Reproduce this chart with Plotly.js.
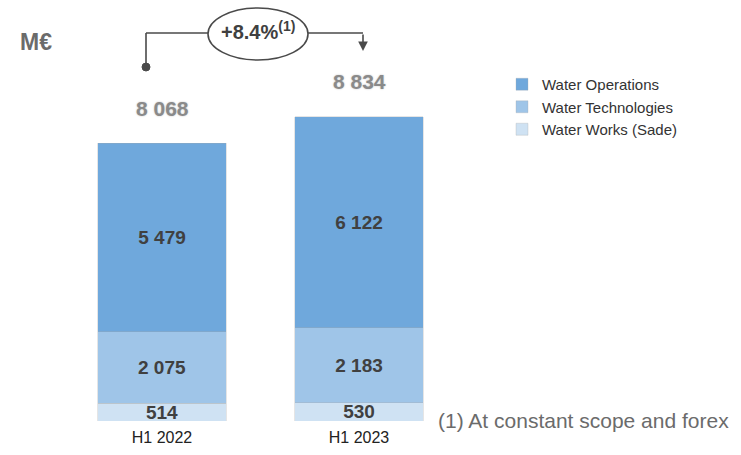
<!DOCTYPE html>
<html><head><meta charset="utf-8">
<script src="https://cdn.plot.ly/plotly-3.0.1.min.js"></script>
<style>html,body{margin:0;padding:0;background:#fff}#c{width:741px;height:455px}</style>
</head><body><div id="c"></div>
<script>
const categories = ['H1 2022', 'H1 2023'];
const waterWorks = [514, 530];
const waterTech = [2075, 2183];
const waterOps = [5479, 6122];
const totals = [8068, 8834];
const seriesNames = ['Water Works (Sade)', 'Water Technologies', 'Water Operations'];
const seriesColors = ['#cfe2f3', '#9fc5e8', '#6fa8dc'];
const growthLabel = '+8.4%<sup>(1)</sup>';
const footnote = '(1) At constant scope and forex';
const unitLabel = 'M€';

const W = 741, H = 455, B = 34;
const px = x => x / W;
const py = y => (H - B - y) / (H - B);
const FONT = 'Liberation Sans, Arial, sans-serif';

const series = [waterWorks, waterTech, waterOps];
const traces = series.map((vals, i) => ({
  type: 'bar', name: seriesNames[i], x: categories, y: vals,
  marker: {color: seriesColors[i], line: {color: 'rgba(170,170,170,0.5)', width: 0.6}},
  width: 0.65,
  texttemplate: '%{y:,}', textposition: 'inside', insidetextanchor: 'middle',
  textfont: {family: FONT, size: 19, color: '#404040', weight: 'bold'},
  hoverinfo: 'skip', constraintext: 'none'
}));

const annotations = categories.map((c, i) => ({
  x: c, y: totals[i], xref: 'x', yref: 'y', text: totals[i].toLocaleString('fr-FR').replace(/\u202f|\u00a0/g, ' '),
  showarrow: false, xanchor: 'center', yanchor: 'middle', yshift: 35,
  font: {family: FONT, size: 21, color: '#8a8a8a', weight: 'bold', shadow: '0px 0px 2px #c0c0c0'}
}));
annotations.push({x: px(36), y: py(42), xref: 'paper', yref: 'paper', xanchor: 'center', yanchor: 'middle', text: unitLabel, showarrow: false,
  font: {family: FONT, size: 23, color: '#6b6b6b', weight: 'bold'}});
annotations.push({x: px(258), y: py(30), xref: 'paper', yref: 'paper', xanchor: 'center', yanchor: 'middle', text: growthLabel, showarrow: false,
  font: {family: FONT, size: 20, color: '#404040', weight: 'bold'}});
annotations.push({x: px(436), y: py(420), xref: 'paper', yref: 'paper', xanchor: 'left', yanchor: 'middle', text: footnote, showarrow: false,
  font: {family: FONT, size: 21, color: '#6b6b6b'}});
annotations.push({x: px(363), y: py(51), ax: px(363), ay: py(33), xref: 'paper', yref: 'paper', axref: 'paper', ayref: 'paper',
  text: '', showarrow: true, arrowhead: 2, arrowsize: 1.2, arrowwidth: 1.6, arrowcolor: '#4a4a4a'});

const lc = {color: '#4a4a4a', width: 1.6};
const shapes = [
  {type: 'line', xref: 'paper', yref: 'paper', x0: px(146), y0: py(67), x1: px(146), y1: py(33), line: lc},
  {type: 'line', xref: 'paper', yref: 'paper', x0: px(146), y0: py(33), x1: px(208), y1: py(33), line: lc},
  {type: 'line', xref: 'paper', yref: 'paper', x0: px(308), y0: py(33), x1: px(363), y1: py(33), line: lc},
  {type: 'circle', xref: 'paper', yref: 'paper', x0: px(208), y0: py(8), x1: px(308), y1: py(60), line: lc, fillcolor: '#ffffff'},
  {type: 'circle', xref: 'paper', yref: 'paper', x0: px(142), y0: py(63), x1: px(150), y1: py(71), line: {color: '#4a4a4a', width: 1}, fillcolor: '#4a4a4a'}
];

const pxPerUnit = (421 - 143) / totals[0];
const layout = {
  width: W, height: H, margin: {l: 0, r: 0, t: 0, b: B},
  paper_bgcolor: '#fff', plot_bgcolor: '#fff',
  barmode: 'stack', separators: '. ',
  font: {family: FONT},
  xaxis: {range: [-162 / 197, -162 / 197 + W / 197], showgrid: false, zeroline: false, showline: false, ticks: '',
    tickfont: {family: FONT, size: 16, color: '#222'}, ticklabelstandoff: 5, fixedrange: true, automargin: false},
  yaxis: {range: [0, 421 / pxPerUnit], visible: false, fixedrange: true},
  legend: {x: px(502), y: py(68), xanchor: 'left', yanchor: 'top', font: {family: FONT, size: 15, color: '#333'},
    bgcolor: 'rgba(0,0,0,0)', traceorder: 'reversed', itemwidth: 30},
  annotations, shapes, showlegend: true
};
Plotly.newPlot('c', traces, layout, {displayModeBar: false, staticPlot: true});
</script></body></html>
